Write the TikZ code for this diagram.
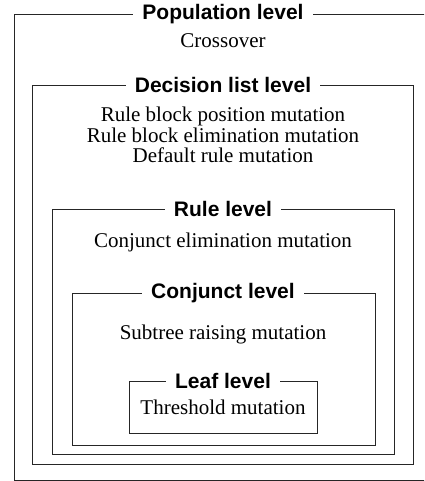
\documentclass[tikz,border=0pt]{standalone}
\usepackage{fontspec}
\setmainfont{Liberation Serif}
\setsansfont{Liberation Sans}
\begin{document}
\begin{tikzpicture}[x=1pt,y=-1pt,
  levelbox/.style={draw=black!85, line width=0.9pt},
  leveltitle/.style={fill=white, inner xsep=9pt, inner ysep=1pt, font=\fontsize{21}{23}\selectfont\sffamily\bfseries},
  optext/.style={anchor=base, inner sep=0pt, font=\fontsize{21}{23}\selectfont\rmfamily}]
\useasboundingbox (0,0) rectangle (424,481);
\clip (0,0) rectangle (424,481);
% boxes
\draw[levelbox] (14,14) rectangle (432,480);
\draw[levelbox] (32,85) rectangle (413,464);
\draw[levelbox] (52,209) rectangle (394,454);
\draw[levelbox] (72,293) rectangle (375,445);
\draw[levelbox] (129,381) rectangle (317,433);
% titles
\node[leveltitle] (pop) at (223,14) {Population level};
\node[leveltitle] (dec) at (223,85) {Decision list level};
\node[leveltitle] (rule) at (223,209) {Rule level};
\node[leveltitle] (conj) at (223,293) {Conjunct level};
\node[leveltitle] (leaf) at (223,381) {Leaf level};
% operators
\node[optext] (cross) at (223,48) {Crossover};
\node[optext] (rbp) at (223,122) {Rule block position mutation};
\node[optext] (rbe) at (223,142.5) {Rule block elimination mutation};
\node[optext] (drm) at (223,163) {Default rule mutation};
\node[optext] (cem) at (223,247) {Conjunct elimination mutation};
\node[optext] (srm) at (223,339) {Subtree raising mutation};
\node[optext] (thr) at (223,414) {Threshold mutation};
\end{tikzpicture}
\end{document}
